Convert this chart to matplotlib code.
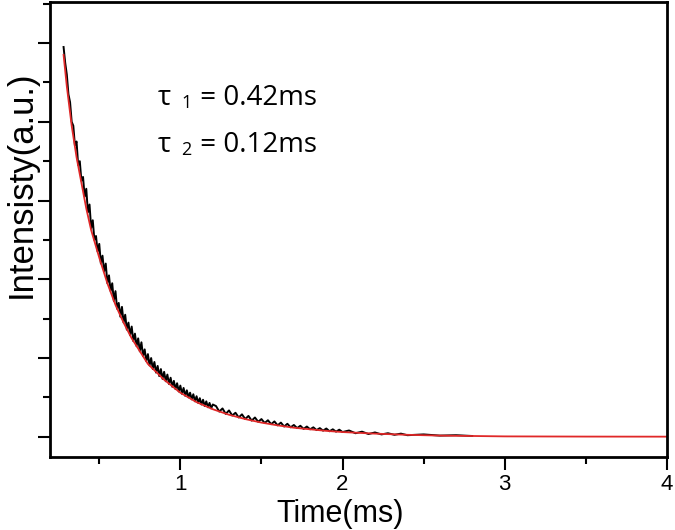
import matplotlib.pyplot as plt
from matplotlib.ticker import MultipleLocator

t_data = [0.28, 0.29, 0.30, 0.31, 0.32, 0.33, 0.34, 0.35, 0.36, 0.37, 0.38, 0.39,
          0.40, 0.41, 0.42, 0.43, 0.44, 0.45, 0.46, 0.47, 0.48, 0.49,
          0.50, 0.51, 0.52, 0.53, 0.54, 0.55, 0.56, 0.57, 0.58, 0.59,
          0.60, 0.61, 0.62, 0.63, 0.64, 0.65, 0.66, 0.67, 0.68, 0.69,
          0.70, 0.71, 0.72, 0.73, 0.74, 0.75, 0.76, 0.77, 0.78, 0.79,
          0.80, 0.81, 0.82, 0.83, 0.84, 0.85, 0.86, 0.87, 0.88, 0.89,
          0.90, 0.91, 0.92, 0.93, 0.94, 0.95, 0.96, 0.97, 0.98, 0.99,
          1.00, 1.01, 1.02, 1.03, 1.04, 1.05, 1.06, 1.07, 1.08, 1.09,
          1.10, 1.11, 1.12, 1.13, 1.14, 1.15, 1.16, 1.17, 1.18, 1.19, 1.20,
          1.22, 1.24, 1.26, 1.28, 1.30, 1.32, 1.34, 1.36, 1.38, 1.40,
          1.42, 1.44, 1.46, 1.48, 1.50, 1.52, 1.54, 1.56, 1.58, 1.60,
          1.62, 1.64, 1.66, 1.68, 1.70, 1.72, 1.74, 1.76, 1.78, 1.80,
          1.82, 1.84, 1.86, 1.88, 1.90, 1.92, 1.94, 1.96, 1.98, 2.00,
          2.04, 2.08, 2.12, 2.16, 2.20, 2.24, 2.28, 2.32, 2.36, 2.40,
          2.50, 2.60, 2.70, 2.80]
i_data = [0.99, 0.95, 0.92, 0.87, 0.85, 0.80, 0.79, 0.74, 0.75, 0.69, 0.70, 0.65,
          0.66, 0.61, 0.63, 0.57, 0.59, 0.53, 0.55, 0.50, 0.51, 0.47,
          0.49, 0.44, 0.46, 0.42, 0.44, 0.39, 0.41, 0.37, 0.39, 0.345,
          0.37, 0.325, 0.34, 0.305, 0.33, 0.29, 0.31, 0.272, 0.29, 0.258,
          0.28, 0.243, 0.262, 0.230, 0.25, 0.217, 0.24, 0.205, 0.222, 0.192,
          0.21, 0.181, 0.20, 0.172, 0.19, 0.163, 0.18, 0.154, 0.172, 0.147,
          0.165, 0.141, 0.158, 0.134, 0.150, 0.127, 0.142, 0.121, 0.136, 0.115,
          0.130, 0.109, 0.124, 0.104, 0.118, 0.100, 0.112, 0.095, 0.108, 0.090,
          0.103, 0.086, 0.098, 0.082, 0.094, 0.078, 0.090, 0.075, 0.086, 0.072, 0.082,
          0.078, 0.064, 0.072, 0.058, 0.067, 0.054, 0.061, 0.049, 0.057, 0.045,
          0.053, 0.041, 0.049, 0.038, 0.045, 0.035, 0.042, 0.032, 0.039, 0.029,
          0.036, 0.026, 0.033, 0.024, 0.030, 0.022, 0.028, 0.020, 0.026, 0.019,
          0.024, 0.017, 0.022, 0.0155, 0.021, 0.014, 0.019, 0.013, 0.018, 0.012,
          0.016, 0.009, 0.013, 0.007, 0.011, 0.006, 0.009, 0.005, 0.008, 0.004,
          0.006, 0.003, 0.004, 0.002]

# fitted curve
t_fit = [0.28, 0.30, 0.33, 0.36, 0.39, 0.42, 0.45, 0.50, 0.55, 0.60, 0.65,
         0.70, 0.80, 0.90, 1.00, 1.10, 1.20, 1.30, 1.40, 1.50, 1.60, 1.70,
         1.80, 1.90, 2.00, 2.20, 2.40, 2.60, 2.80, 3.00, 3.50, 4.00]
i_fit = [0.97, 0.89, 0.79, 0.71, 0.645, 0.58, 0.525, 0.455, 0.39, 0.335, 0.29,
         0.25, 0.185, 0.145, 0.112, 0.088, 0.070, 0.056, 0.045, 0.036, 0.029, 0.023,
         0.019, 0.015, 0.012, 0.008, 0.005, 0.003, 0.002, 0.001, 0.0005, 0.0003]

plt.rcParams['font.family'] = ['Liberation Sans', 'DejaVu Sans']

fig = plt.figure(figsize=(6.75, 5.30), dpi=100)
ax = fig.add_axes([0.074, 0.138, 0.914, 0.858])

ax.plot(t_data, i_data, color='black', lw=1.4)
ax.plot(t_fit, i_fit, color='#e02828', lw=1.3)

ax.set_xlim(0.196, 4)
ax.set_ylim(-0.051, 1.104)

ax.xaxis.set_major_locator(MultipleLocator(1))
ax.xaxis.set_minor_locator(MultipleLocator(0.5))
ax.yaxis.set_major_locator(MultipleLocator(0.2))
ax.yaxis.set_minor_locator(MultipleLocator(0.1))
ax.set_yticklabels([])
ax.tick_params(which='major', length=9, width=1.5, labelsize=16, pad=3)
ax.tick_params(which='minor', length=5, width=1.5)
for s in ax.spines.values():
    s.set_linewidth(2)

ax.set_xlabel('Time(ms)', fontsize=22)
ax.set_ylabel('Intensisty(a.u.)', fontsize=25)
ax.xaxis.set_label_coords(0.47, -0.093)
ax.yaxis.set_label_coords(-0.02, 0.60)

tf = ['Open Sans', 'DejaVu Sans']
for y, sub, val in [(0.79, '1', ' = 0.42ms'), (0.686, '2', ' = 0.12ms')]:
    ax.text(0.175, y, 'τ', transform=ax.transAxes, fontsize=20, family=tf, va='center')
    ax.text(0.213, y - 0.012, sub, transform=ax.transAxes, fontsize=13, family=tf, va='center')
    ax.text(0.232, y, val, transform=ax.transAxes, fontsize=20, family=tf, va='center')

fig.savefig('out.png', dpi=100)
